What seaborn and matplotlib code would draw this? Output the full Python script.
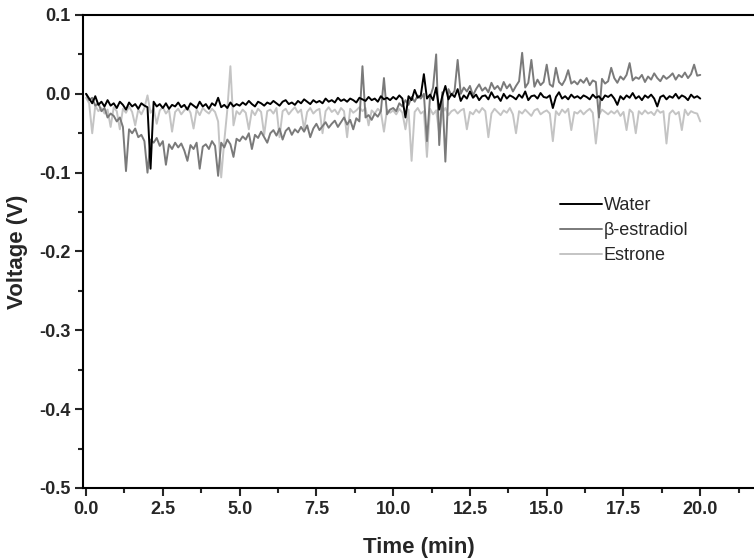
import numpy as np
import pandas as pd
import matplotlib
matplotlib.use("Agg")
import matplotlib.pyplot as plt
import seaborn as sns
from matplotlib.ticker import MultipleLocator

# time grid (min), 0.1-min sampling
time_min = np.round(np.arange(0, 201) * 0.1, 1)

# values, in mV
water_mv = [
    0, -6, -12, -3, -14, -10, -16, -8, -15, -12,
    -18, -10, -14, -20, -11, -16, -13, -19, -12, -15,
    -17, -95, -10, -16, -13, -18, -12, -19, -14, -16,
    -11, -17, -14, -20, -12, -15, -18, -10, -16, -13,
    -19, -12, -15, -5, -17, -14, -18, -11, -16, -13,
    -15, -11, -14, -9, -13, -16, -10, -12, -15, -11,
    -13, -9, -12, -15, -10, -8, -13, -11, -14, -9,
    -12, -7, -10, -13, -8, -11, -9, -12, -6, -10,
    -8, -11, -5, -9, -7, -10, -6, -8, -11, -5,
    -7, -9, -4, -8, -6, -10, -3, -7, -5, -8,
    -4, -7, -2, -6, -30, -3, -8, 5, -5, -2,
    25, -6, -1, -8, 8, -20, -3, 10, -7, 0,
    -4, 6, -9, -2, -6, 3, -5, -1, -8, -3,
    -2, -7, 2, -5, -3, -9, 0, -6, -2, -4,
    -7, -1, -5, 3, -8, -3, -2, -6, 1, -4,
    -5, -2, -18, -4, 2, -6, -3, -7, -1, -5,
    -3, -6, -2, -4, -7, -1, -5, -3, -8, -2,
    -4, -1, -6, -14, -3, -7, -2, -5, 1, -6,
    -3, -8, -2, -5, -1, -6, -16, -4, -2, -7,
    -3, -5, 0, -6, -2, -4, -8, -1, -5, -3,
    -6,
]
estradiol_mv = [
    0, -8, -5, -15, -12, -22, -18, -30, -25, -28,
    -35, -30, -42, -98, -45, -50, -44, -55, -52, -60,
    -100, -58, -62, -56, -66, -60, -90, -64, -70, -62,
    -68, -63, -72, -85, -65, -70, -62, -95, -67, -64,
    -70, -60, -66, -104, -62, -68, -58, -64, -80, -57,
    -60, -54, -58, -50, -70, -52, -56, -48, -55, -62,
    -50, -46, -53, -44, -58, -47, -43, -52, -45, -49,
    -42, -48, -40, -55, -44, -38, -46, -41, -36, -43,
    -38, -34, -42, -36, -30, -39, -33, -45, -31, -35,
    35, -30, -27, -33, -25, -29, -22, 20, -26, -20,
    -18, -22, -12, -16, -8, -14, -4, -10, -2, -6,
    0, -60, -4, 8, 50, -65, 2, -86, 6, -2,
    4, 43, 0, 8, 3, 10, -2, 6, 12, 4,
    8, 2, 14, 6, 10, 4, 15, 7, 12, 3,
    10, 16, 52, 8, 14, 43, 9, 18, 11, 15,
    37, 12, 9, 33, 15, 11, 18, 30, 13, 16,
    12, 18, 14, 20, 11, 17, 15, -30, 19, 13,
    16, 33, 20, 14, 22, 18, 24, 39, 17, 21,
    19, 24, 15, 22, 18, 26, 20, 16, 23, 19,
    22, 26, 18, 24, 21, 27, 20, 25, 37, 23,
    24,
]
estrone_mv = [
    -5, -12, -50, -15, -22, -18, -25, -20, -42, -17,
    -22, -45, -19, -24, -16, -23, -40, -20, -26, -18,
    -2, -24, -19, -38, -21, -17, -25, -20, -48, -23,
    -19, -26, -21, -17, -24, -44, -20, -27, -18, -22,
    -25, -19, -23, -35, -106, -60, -20, 35, -40, -22,
    -26, -20, -24, -45, -21, -27, -19, -23, -52, -22,
    -20, -25, -18, -55, -22, -19, -26, -21, -17, -24,
    -20, -45, -23, -18, -25, -21, -19, -50, -22, -17,
    -23, -20, -26, -18, -22, -55, -19, -24, -21, -17,
    -22, -18, -40, -21, -25, -19, -23, -48, -20, -24,
    -21, -26, -19, -24, -45, -20, -85, -23, -18, -25,
    -22, -80, -19, -26, -21, -50, -24, -18, -27, -22,
    -20, -25, -21, -19, -45, -23, -26, -20, -24, -18,
    -22, -55, -25, -19, -23, -27, -21, -24, -18, -26,
    -50, -22, -25, -20, -24, -28, -21, -19, -26, -23,
    -21, -25, -60, -22, -27, -20, -24, -19, -46, -23,
    -25, -21, -26, -22, -19, -24, -63, -27, -20, -23,
    -26, -22, -25, -21, -28, -23, -46, -20, -24, -50,
    -22, -26, -21, -25, -23, -27, -20, -24, -22, -63,
    -25, -21, -26, -23, -46, -20, -27, -22, -24, -25,
    -35,
]

series_names = ["Water", "\u03b2-estradiol", "Estrone"]
series_colors = ["#000000", "#7a7a7a", "#c4c4c4"]

df = pd.DataFrame({
    "Time (min)": np.concatenate([time_min] * 3),
    "Voltage (V)": np.concatenate([water_mv, estradiol_mv, estrone_mv]) / 1000.0,
    "series": np.repeat(series_names, len(time_min)),
})

sns.set_style("ticks")
plt.rcParams["font.family"] = ["Liberation Sans", "DejaVu Sans"]

fig = plt.figure(figsize=(7.54, 5.59), dpi=100)
ax = fig.add_axes([83 / 754, 71 / 559, 1 - 83 / 754, 473 / 559])

# draw back to front: estrone, estradiol, water
for name, col, z in zip(series_names[::-1], series_colors[::-1], [2, 3, 4]):
    sns.lineplot(data=df[df["series"] == name], x="Time (min)", y="Voltage (V)",
                 color=col, linewidth=1.4, ax=ax, label=name, zorder=z,
                 estimator=None, sort=False)

ax.set_xlim(-0.1, 21.75)
ax.set_ylim(-0.5, 0.1)
ax.xaxis.set_major_locator(MultipleLocator(2.5))
ax.xaxis.set_minor_locator(MultipleLocator(1.25))
ax.yaxis.set_major_locator(MultipleLocator(0.1))
ax.yaxis.set_minor_locator(MultipleLocator(0.05))
ax.set_xticks(np.arange(0, 20.01, 2.5))
ax.set_xticklabels([f"{v:.1f}" for v in np.arange(0, 20.01, 2.5)])
ax.set_yticklabels([f"{v:.1f}" for v in ax.get_yticks()])

for s in ["left", "bottom", "top"]:
    ax.spines[s].set_linewidth(1.5)
    ax.spines[s].set_color("black")
ax.spines["right"].set_visible(False)

ax.tick_params(axis="both", which="major", direction="out", length=6, width=1.5,
               labelsize=13, pad=3)
ax.tick_params(axis="both", which="minor", direction="out", length=3.5, width=1.5)
for lab in ax.get_xticklabels() + ax.get_yticklabels():
    lab.set_fontweight("bold")

ax.set_xlabel("Time (min)", fontsize=16, fontweight="bold", labelpad=14)
ax.set_ylabel("Voltage (V)", fontsize=16, fontweight="bold", labelpad=8)

handles, labels = ax.get_legend_handles_labels()
order = [labels.index(n) for n in series_names]
leg = ax.legend([handles[i] for i in order], [labels[i] for i in order],
                frameon=False, loc="upper left",
                bbox_to_anchor=(544 / 754, 1 - 181 / 559),
                bbox_transform=fig.transFigure,
                fontsize=13, handlelength=2.3, handletextpad=0.1,
                labelspacing=0.45)

fig.savefig("out.png", dpi=100)
